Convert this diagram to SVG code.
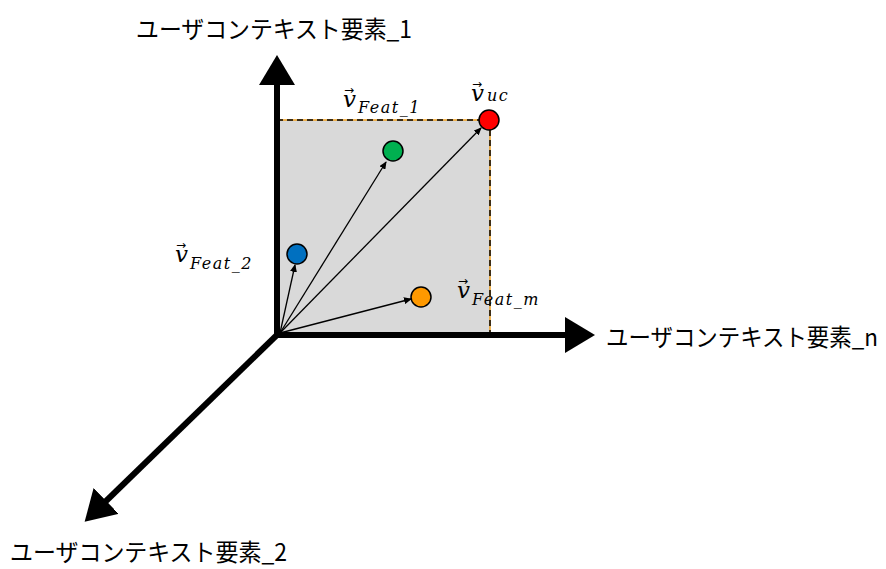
<svg xmlns="http://www.w3.org/2000/svg" width="886" height="569" viewBox="0 0 886 569">
<style>
.lbl{font-family:"Meiryo UI","Noto Sans CJK JP","Noto Sans",sans-serif;font-size:24px;fill:#000}
.axis{stroke:#000;stroke-width:6;fill:none}
.vec{stroke:#000;stroke-width:1.3;fill:none;marker-end:url(#sm)}
.pt{stroke:#000;stroke-width:1.5}
.mv{font-family:"DejaVu Serif","Liberation Serif",serif;font-style:italic;font-size:23px;fill:#000}
.ms{font-family:"DejaVu Serif","Liberation Serif",serif;font-style:italic;font-size:16px;letter-spacing:1.5px}
.ar{font-family:"DejaVu Sans",sans-serif;font-style:normal;font-size:12px}
</style>
<defs>
<marker id="big" markerWidth="5" markerHeight="6" refX="0.5" refY="3" orient="auto" markerUnits="strokeWidth" viewBox="0 0 5 6">
<path d="M0,0 L5,3 L0,6 Z" fill="#000"/>
</marker>
<marker id="sm" markerWidth="8" markerHeight="7" refX="7" refY="3.5" orient="auto" markerUnits="userSpaceOnUse" viewBox="0 0 8 7">
<path d="M0,0 L8,3.5 L0,7 Z" fill="#000"/>
</marker>
</defs>
<rect id="plane" x="277" y="120" width="213" height="215" fill="#d9d9d9"/>
<g id="plane-border">
<path d="M277,120 H480 M490,130 V335" stroke="#f0a020" stroke-width="1.5" fill="none"/>
<path d="M277,120 H480 M490,130 V335" stroke="#000" stroke-width="1.5" stroke-dasharray="6 4" fill="none"/>
</g>
<g id="connectors">
<line class="axis" x1="277" y1="338" x2="277" y2="82" marker-end="url(#big)"/>
<line class="axis" x1="274" y1="335" x2="568" y2="335" marker-end="url(#big)"/>
<line class="axis" x1="279" y1="333" x2="104" y2="503" marker-end="url(#big)"/>
<line class="vec" x1="280" y1="333" x2="386" y2="162"/>
<line class="vec" x1="280" y1="333" x2="481" y2="128"/>
<line class="vec" x1="280" y1="333" x2="295" y2="265"/>
<line class="vec" x1="280" y1="333" x2="411" y2="299"/>
</g>
<g id="point-uc"><circle class="pt" cx="489" cy="120" r="10" fill="#ff0000"/></g>
<g id="point-feat1"><circle class="pt" cx="393" cy="151" r="10" fill="#00b050"/></g>
<g id="point-feat2"><circle class="pt" cx="297" cy="254" r="10" fill="#0070c0"/></g>
<g id="point-featm"><circle class="pt" cx="421" cy="297" r="10" fill="#ff9900"/></g>
<g id="axis-label-1"><text class="lbl" x="136" y="38" textLength="276" lengthAdjust="spacingAndGlyphs">ユーザコンテキスト要素_1</text></g>
<g id="axis-label-n"><text class="lbl" x="606" y="346" textLength="272" lengthAdjust="spacingAndGlyphs">ユーザコンテキスト要素_n</text></g>
<g id="axis-label-2"><text class="lbl" x="10" y="561" textLength="277" lengthAdjust="spacingAndGlyphs">ユーザコンテキスト要素_2</text></g>
<g id="label-feat1">
<text class="mv" x="343" y="107">v<tspan class="ar" dx="-12" dy="-13">→</tspan><tspan class="ms" dx="4" dy="19">Feat_1</tspan></text>
</g>
<g id="label-uc">
<text class="mv" x="471" y="101">v<tspan class="ar" dx="-12" dy="-13">→</tspan><tspan class="ms" dx="5" dy="13">uc</tspan></text>
</g>
<g id="label-feat2">
<text class="mv" x="175" y="262">v<tspan class="ar" dx="-12" dy="-13">→</tspan><tspan class="ms" dx="4" dy="20">Feat_2</tspan></text>
</g>
<g id="label-featm">
<text class="mv" x="457" y="298">v<tspan class="ar" dx="-12" dy="-13">→</tspan><tspan class="ms" dx="4" dy="20">Feat_m</tspan></text>
</g>
</svg>
